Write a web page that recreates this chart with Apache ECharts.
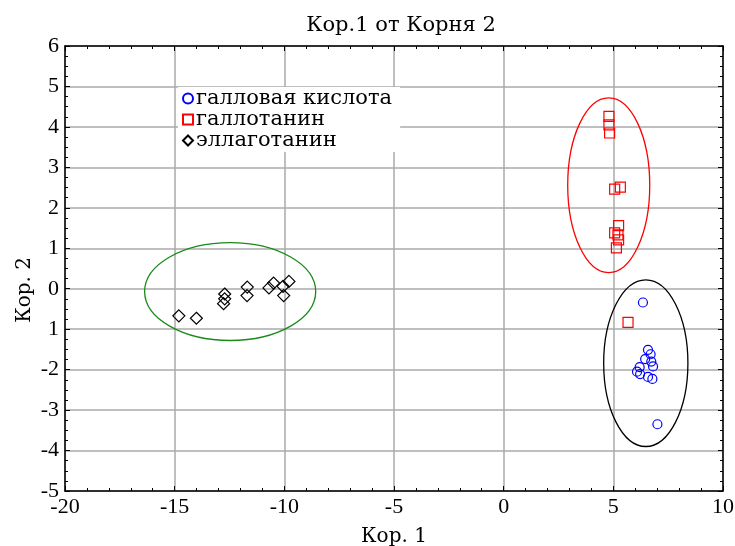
<!DOCTYPE html>
<html>
<head>
<meta charset="utf-8">
<script src="https://cdn.jsdelivr.net/npm/echarts@6/dist/echarts.min.js"></script>
<style>html,body{margin:0;padding:0;background:#fff;}#c{width:735px;height:546px;}</style>
</head>
<body>
<div id="c"></div>
<script>
var titleText = 'Кор.1 от Корня 2';
var xName = 'Кор. 1';
var yName = 'Кор. 2';
var seriesNames = ['галловая кислота', 'галлотанин', 'эллаготанин'];
var yTickValues = [-5, -4, -3, -2, -1, 0, 1, 2, 3, 4, 5, 6];
var yTickLabels = ['-5', '-4', '-3', '-2', '1', '0', '1', '2', '3', '4', '5', '6'];

var gallicAcid = [
  [6.35, -0.34], [6.58, -1.51], [6.70, -1.62], [6.45, -1.74], [6.73, -1.80],
  [6.81, -1.92], [6.20, -1.94], [6.08, -2.05], [6.22, -2.11], [6.58, -2.18],
  [6.78, -2.23], [7.01, -3.35]
];
var gallotannin = [
  [4.80, 4.26], [4.80, 4.05], [4.83, 3.85], [5.06, 2.46], [5.32, 2.51],
  [5.24, 1.56], [5.06, 1.38], [5.21, 1.33], [5.24, 1.21], [5.14, 1.01],
  [5.67, -0.83]
];
var ellagitannin = [
  [-14.81, -0.67], [-14.01, -0.73], [-12.72, -0.13], [-12.72, -0.25], [-12.77, -0.37],
  [-11.69, 0.04], [-11.70, -0.17], [-10.70, 0.02], [-10.49, 0.14], [-10.06, 0.06],
  [-9.79, 0.18], [-10.03, -0.17]
];
// ellipses: [centerX, centerY, semiAxisX, semiAxisY]
var ellipseGallic = [6.48, -1.84, 1.92, 2.06];
var ellipseGallo = [4.79, 2.56, 1.87, 2.16];
var ellipseEllag = [-12.47, -0.07, 3.90, 1.21];

var serif = '"Liberation Serif", "Times New Roman", serif';
var wideSerif = '"DejaVu Serif", serif';

function ellipseSeries(e, color) {
  return {
    type: 'custom',
    silent: true,
    clip: true,
    data: [e],
    renderItem: function (params, api) {
      var c = api.coord([api.value(0), api.value(1)]);
      var s = api.size([api.value(2), api.value(3)]);
      return {
        type: 'ellipse',
        shape: {cx: c[0], cy: c[1], rx: s[0], ry: s[1]},
        style: {fill: null, stroke: color, lineWidth: 1.3}
      };
    },
    encode: {x: 0, y: 1},
    z: 3
  };
}

var chart = echarts.init(document.getElementById('c'));
var axisLineStyle = {onZero: false, lineStyle: {color: '#000', width: 1.5}};
chart.setOption({
  animation: false,
  backgroundColor: '#fff',
  title: {
    text: titleText, left: 396, top: 10, textAlign: 'center',
    textStyle: {fontFamily: wideSerif, fontSize: 21, fontWeight: 'normal', color: '#000'}
  },
  graphic: [{
    type: 'text', left: 15, top: 257, rotation: Math.PI / 2,
    style: {text: yName, font: '20px "DejaVu Serif", serif', fill: '#000'}
  }],
  grid: {left: 65, right: 12, top: 46, bottom: 55, containLabel: false, outerBoundsMode: 'none'},
  legend: {
    orient: 'vertical', left: 178, top: 87, itemGap: 0,
    itemWidth: 10, itemHeight: 10,
    backgroundColor: '#fff', padding: [1, 8, 1, 4],
    data: seriesNames,
    textStyle: {fontFamily: wideSerif, fontSize: 21, lineHeight: 21, color: '#000', padding: [0, 0, 0, -2]}
  },
  xAxis: [{
    type: 'value', min: -20, max: 10, interval: 5,
    name: xName, nameLocation: 'middle', nameGap: 36,
    nameTextStyle: {fontFamily: wideSerif, fontSize: 20, color: '#000'},
    axisLine: axisLineStyle,
    axisTick: {inside: true, length: 5, lineStyle: {color: '#000'}},
    minorTick: {show: true, splitNumber: 5, length: 3, lineStyle: {color: '#000'}},
    axisLabel: {fontFamily: serif, fontSize: 22, color: '#000', margin: 5},
    splitLine: {show: true, lineStyle: {color: '#aaa', width: 1.5}}
  }, {
    type: 'value', min: -20, max: 10, interval: 5, position: 'top',
    axisLine: axisLineStyle,
    axisTick: {inside: true, length: 5, lineStyle: {color: '#000'}},
    minorTick: {show: true, splitNumber: 5, length: 3, lineStyle: {color: '#000'}},
    axisLabel: {show: false}, splitLine: {show: false}
  }],
  yAxis: [{
    type: 'value', min: -5, max: 6, interval: 1,
    axisLine: axisLineStyle,
    axisTick: {inside: true, length: 5, lineStyle: {color: '#000'}},
    minorTick: {show: true, splitNumber: 4, length: 3, lineStyle: {color: '#000'}},
    axisLabel: {
      fontFamily: serif, fontSize: 22, color: '#000', margin: 6,
      formatter: function (v) {
        var i = yTickValues.indexOf(Math.round(v));
        return i >= 0 ? yTickLabels[i] : '';
      }
    },
    splitLine: {show: true, lineStyle: {color: '#aaa', width: 1.5}}
  }, {
    type: 'value', min: -5, max: 6, interval: 1, position: 'right',
    axisLine: axisLineStyle,
    axisTick: {inside: true, length: 5, lineStyle: {color: '#000'}},
    minorTick: {show: true, splitNumber: 4, length: 3, lineStyle: {color: '#000'}},
    axisLabel: {show: false}, splitLine: {show: false}
  }],
  series: [
    ellipseSeries(ellipseGallic, '#000'),
    ellipseSeries(ellipseGallo, '#ff0000'),
    ellipseSeries(ellipseEllag, '#1a8a1a'),
    {
      name: seriesNames[0], type: 'scatter', data: gallicAcid,
      symbol: 'circle', symbolSize: 9, z: 5,
      itemStyle: {color: 'rgba(255,255,255,0)', borderColor: '#0000ff', borderWidth: 1.2, opacity: 1}
    },
    {
      name: seriesNames[1], type: 'scatter', data: gallotannin,
      symbol: 'rect', symbolSize: 10, z: 5,
      itemStyle: {color: 'rgba(255,255,255,0)', borderColor: '#ff0000', borderWidth: 1.2, opacity: 1}
    },
    {
      name: seriesNames[2], type: 'scatter', data: ellagitannin,
      symbol: 'diamond', symbolSize: 12, z: 5,
      itemStyle: {color: 'rgba(255,255,255,0)', borderColor: '#000', borderWidth: 1.2, opacity: 1}
    }
  ]
});
</script>
</body>
</html>
